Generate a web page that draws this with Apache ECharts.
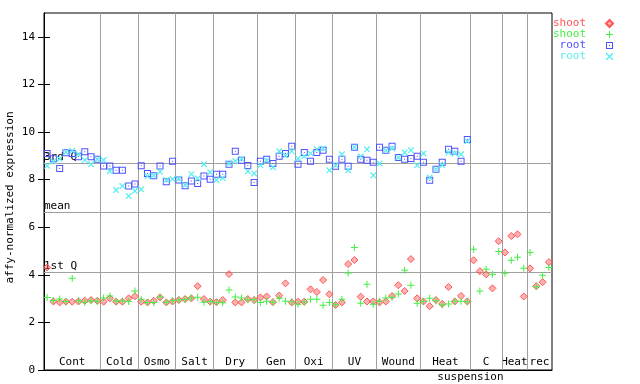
<!DOCTYPE html>
<html><head><meta charset="utf-8">
<script src="https://cdn.jsdelivr.net/npm/echarts@6/dist/echarts.min.js"></script>
<style>html,body{margin:0;padding:0;background:#fff}#c{width:640px;height:384px}</style>
</head><body><div id="c"></div>
<script>
const groupNames = ['Cont','Cold','Osmo','Salt','Dry','Gen','Oxi','UV','Wound','Heat','C','Heat','rec'];
const groupSizes = [9,6,6,6,7,6,6,7,7,8,5,4,4];
const subLabel = 'suspension';
const yTicks = [0,2,4,6,8,10,12,14];
const quartileNames = ['3rd Q','mean','1st Q'];
const quartileValues = [8.67, 6.61, 4.10];
const legendNames = ['shoot','shoot','root','root'];

const shootA = [4.31,2.88,2.84,2.87,2.87,2.88,2.91,2.94,2.91,
  2.87,3.01,2.87,2.87,3.01,3.10,
  2.87,2.84,2.91,3.05,2.84,2.88,
  2.94,2.98,3.01,3.52,2.98,2.87,
  2.85,2.94,4.03,2.84,2.84,2.98,2.94,
  3.05,3.09,2.85,3.13,3.64,2.84,
  2.87,2.87,3.39,3.28,3.78,3.18,
  2.73,2.84,4.45,4.62,3.08,2.88,2.88,
  2.84,2.88,3.11,3.56,3.32,4.66,3.01,
  2.88,2.68,2.94,2.78,3.49,2.88,3.11,2.88,
  4.61,4.15,4.02,3.43,5.41,
  4.94,5.63,5.70,3.09,
  4.27,3.52,3.69,4.53];
const shootB = [3.05,2.92,2.98,2.88,3.85,2.91,2.85,2.91,2.89,
  3.03,3.11,2.90,2.90,2.88,3.32,
  2.97,2.84,2.84,3.07,2.85,2.91,
  2.94,2.96,3.03,3.06,2.85,2.88,
  2.84,2.83,3.36,3.07,3.02,2.95,2.95,
  2.84,2.89,2.85,3.01,2.89,2.87,
  2.76,2.86,2.97,2.97,2.72,2.84,
  2.74,2.97,4.08,5.15,2.80,3.60,2.76,
  2.89,3.03,3.06,3.19,4.19,3.56,2.80,
  2.89,3.01,2.91,2.73,2.77,2.89,2.89,2.87,
  5.07,3.32,4.23,4.02,4.98,
  4.06,4.61,4.74,4.27,
  4.94,3.50,3.98,4.31];
const rootA = [9.10,8.88,8.47,9.13,9.10,8.96,9.17,8.96,8.85,
  8.57,8.57,8.39,8.39,7.73,7.82,
  8.58,8.26,8.16,8.57,7.91,8.77,
  7.98,7.74,7.94,7.84,8.15,8.01,
  8.23,8.22,8.64,9.19,8.81,8.59,7.88,
  8.77,8.85,8.68,8.98,9.10,9.40,
  8.64,9.14,8.77,9.14,9.23,8.85,
  8.56,8.85,8.56,9.36,8.85,8.81,8.73,
  9.36,9.23,9.40,8.93,8.85,8.89,8.98,
  8.73,7.97,8.43,8.73,9.27,9.19,8.77,9.69];
const rootB = [8.58,8.77,8.88,9.15,9.21,9.06,8.82,8.64,8.85,
  8.82,8.35,7.56,7.73,7.31,7.53,
  7.59,8.14,8.17,8.33,7.98,8.02,
  8.04,7.77,8.23,8.05,8.65,8.31,
  7.98,8.07,8.68,8.78,8.88,8.35,8.26,
  8.60,8.81,8.52,9.19,9.01,9.19,
  8.89,8.98,9.10,9.27,9.31,8.39,
  8.60,9.06,8.39,9.36,8.98,9.27,8.18,
  8.68,9.23,9.31,8.93,9.14,9.23,8.60,
  9.10,8.09,8.43,8.60,9.14,9.10,9.06,9.61];

const FONT = 'DejaVu Sans Mono';
const total = groupSizes.reduce((a,b)=>a+b,0);
const bounds = [], centers = [];
let acc = 0;
groupSizes.forEach(s => { centers.push(acc + s/2); acc += s; bounds.push(acc); });
bounds.pop();
const subPos = [bounds[9]];

const toPts = arr => arr.map((v,i)=>[i+0.5, v]);
const colors = ['#ff5555','#44ee44','#5050ff','#55eeee'];
const symPlus = 'path://M3,0H4V7H3Z M0,3H7V4H0Z';
const symSquare = 'path://M0,0H7V7H0Z M1,1V6H6V1Z M3,3H4V4H3Z';
const symX = 'path://M0,0L1,0L7,6L7,7L6,7L0,1Z M6,0L7,0L7,1L1,7L0,7L0,6Z';

const lineStyle = {color:'#a0a0a0', width:1, type:'solid'};
const chart = echarts.init(document.getElementById('c'), null, {renderer:'canvas'});
chart.setOption({
  animation:false,
  backgroundColor:'#fff',
  grid:{left:44, right:88, top:13, bottom:14, show:true, borderColor:'#000', borderWidth:1,
    backgroundColor:'transparent', containLabel:false, outerBoundsMode:'none'},
  xAxis:[{
    type:'value', min:0, max:total, position:'bottom',
    axisLine:{show:true, lineStyle:{color:'#000', width:1}},
    axisTick:{show:false}, splitLine:{show:false},
    axisLabel:{show:true, inside:true, margin:2, customValues:centers,
      fontFamily:FONT, fontSize:11, color:'#000',
      formatter:v => { const k = centers.findIndex(c=>Math.abs(c-v)<1e-6); return k>=0 ? groupNames[k] : ''; }}
  },{
    type:'value', min:0, max:total, position:'bottom',
    axisLine:{show:false}, axisTick:{show:false}, splitLine:{show:false},
    axisLabel:{show:true, margin:2, customValues:subPos, fontFamily:FONT, fontSize:11, color:'#000',
      formatter:()=>subLabel}
  }],
  yAxis:[{
    type:'value', min:0, max:15, position:'left',
    name:'affy-normalized expression', nameLocation:'middle', nameGap:28, nameRotate:90,
    nameMoveOverlap:false,
    nameTextStyle:{fontFamily:FONT, fontSize:11, color:'#000', padding:[0,12,0,0]},
    axisLine:{show:true, lineStyle:{color:'#000', width:1}},
    axisTick:{show:true, inside:true, length:6, customValues:yTicks, lineStyle:{color:'#000'}},
    axisLabel:{show:true, customValues:yTicks, margin:9, fontFamily:FONT, fontSize:11, color:'#000'},
    splitLine:{show:false}
  },{
    type:'value', min:0, max:15, position:'right',
    axisLine:{show:true, lineStyle:{color:'#000', width:1}},
    axisTick:{show:true, inside:true, length:6, customValues:yTicks, lineStyle:{color:'#000'}},
    axisLabel:{show:false}, splitLine:{show:false}
  }],
  legend:{
    orient:'vertical', right:26, top:18, align:'right', padding:0, itemGap:0,
    itemWidth:7, itemHeight:7, selectedMode:false,
    formatter:n => n.split('_')[0],
    textStyle:{fontFamily:FONT, fontSize:11, lineHeight:11, padding:[0,15,0,0]},
    data:['shoot_1','shoot_2','root_1','root_2'].map((n,i)=>({name:n, textStyle:{color:colors[i]}}))
  },
  series:[
    {name:'shoot_1', type:'scatter', data:toPts(shootA), symbol:'diamond', symbolSize:7, z:2,
      itemStyle:{color:'rgba(255,85,85,0.45)', borderColor:'#ff5555', borderWidth:1, opacity:1},
      markLine:{silent:true, symbol:['none','none'], z:1, lineStyle:lineStyle,
        label:{show:true, position:'insideStartTop', distance:[0,1], formatter:'{b}', color:'#000', fontFamily:FONT, fontSize:11},
        data:quartileValues.map((v,i)=>({yAxis:v, name:quartileNames[i]})).concat(
          bounds.map(b=>({xAxis:b, label:{show:false}})))
      }},
    {name:'shoot_2', type:'scatter', data:toPts(shootB), symbol:symPlus, symbolSize:7, z:3,
      itemStyle:{color:colors[1], opacity:1}},
    {name:'root_1', type:'scatter', data:toPts(rootA), symbol:symSquare, symbolSize:7, z:4,
      itemStyle:{color:colors[2], opacity:1}},
    {name:'root_2', type:'scatter', data:toPts(rootB), symbol:symX, symbolSize:6, z:5,
      itemStyle:{color:colors[3], opacity:1}}
  ]
});
</script></body></html>
